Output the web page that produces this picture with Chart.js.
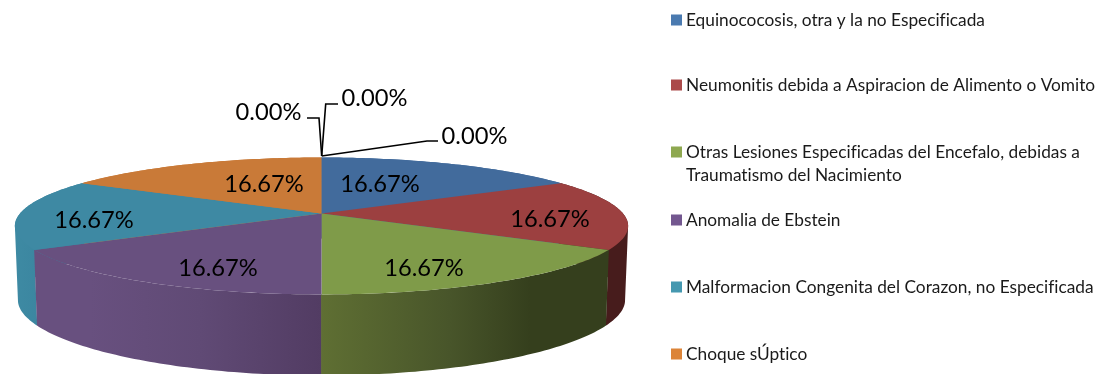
<!DOCTYPE html>
<html>
<head>
<meta charset="utf-8">
<title>Pie 3D</title>
<script src="https://cdn.jsdelivr.net/npm/chart.js@4"></script>
<style>
  html, body { margin: 0; padding: 0; background: #fff; overflow: hidden; }
  canvas { display: block; }
</style>
</head>
<body>
<canvas id="grafico" width="1105" height="374"></canvas>
<script>
// Datos (las tres primeras porciones valen 0 y no salen en la leyenda)
const categorias = [
  "Sin nombre 1", "Sin nombre 2", "Sin nombre 3",
  "Equinococosis, otra y la no Especificada",
  "Neumonitis debida a Aspiracion de Alimento o Vomito",
  "Otras Lesiones Especificadas del Encefalo, debidas a|Traumatismo del Nacimiento",
  "Anomalia de Ebstein",
  "Malformacion Congenita del Corazon, no Especificada",
  "Choque sÚptico"
];
const valores = [0, 0, 0, 16.67, 16.67, 16.67, 16.67, 16.67, 16.67];
const coloresTapa = ["#426b9c", "#426b9c", "#426b9c", "#426b9c", "#9c4040", "#7f9b49", "#68507f", "#3e89a3", "#c97a38"];
const coloresLeyenda = ["#4a7ab0", "#4a7ab0", "#4a7ab0", "#4a7ab0", "#ab4a4a", "#8ea850", "#73578f", "#4598b0", "#dc8438"];

// Proyeccion en perspectiva del disco
const vista = { cx: 321.5, cy: 213.5, rx: 301.5, ry: 66.2, k: 0.182 };
const FUENTE = "Lato, Carlito, sans-serif";

// theta: angulo de Chart.js, abajo: true para el borde inferior
function proyectar(theta, abajo) {
  const u = Math.cos(theta), v = Math.sin(theta);
  const w = 1 - vista.k * v;
  let x = vista.cx + vista.rx * u / w;
  let y = vista.cy + vista.ry * v / w;
  if (abajo) {
    x = vista.cx + (x - vista.cx) * 0.99;
    y += 74 + 7 * v * v;
  }
  return [x, y];
}

function trazarBorde(ctx, ini, fin) {
  const pasos = 60;
  for (let i = 0; i <= pasos; i++) {
    const p = proyectar(ini + (fin - ini) * i / pasos, false);
    ctx.lineTo(p[0], p[1]);
  }
}

// Pared lateral por tiras, todas en el mismo sentido y en un solo path para que no queden rayas
function pintarPared(ctx, ini, fin) {
  const pasos = 60;
  ctx.beginPath();
  for (let i = 0; i < pasos; i++) {
    const t0 = ini + (fin - ini) * i / pasos;
    const t1 = ini + (fin - ini) * (i + 1) / pasos;
    let q = [proyectar(t0, false), proyectar(t1, false), proyectar(t1, true), proyectar(t0, true)];
    const area = q.reduce((s, p, j) => {
      const n = q[(j + 1) % 4];
      return s + p[0] * n[1] - n[0] * p[1];
    }, 0);
    if (area < 0) q = q.reverse();
    ctx.moveTo(q[0][0], q[0][1]);
    ctx.lineTo(q[1][0], q[1][1]);
    ctx.lineTo(q[2][0], q[2][1]);
    ctx.lineTo(q[3][0], q[3][1]);
    ctx.closePath();
  }
  ctx.fill();
}

// Color de la pared lateral, con su degradado horizontal
function rellenoPared(ctx, indice) {
  const g = ctx.createLinearGradient(0, 0, 1105, 0);
  const tramos = {
    4: [[600, "#471c1c"], [630, "#471c1c"]],
    5: [[321, "#5f6f33"], [450, "#48552a"], [530, "#353f1d"], [610, "#353f1d"]],
    6: [[36, "#68507f"], [90, "#68507f"], [200, "#604a75"], [321, "#523c63"]],
    7: [[14, "#3e8aa3"], [40, "#3b86a0"]]
  }[indice];
  if (!tramos) return coloresTapa[indice];
  tramos.forEach(t => g.addColorStop(t[0] / 1105, t[1]));
  return g;
}

const tarta3d = {
  id: "tarta3d",
  // La tarta se pinta aqui a partir de los angulos que calcula Chart.js
  beforeDatasetDraw(chart) {
    const ctx = chart.ctx;
    const arcos = chart.getDatasetMeta(0).data;
    ctx.save();
    [8, 3, 7, 4, 6, 5].forEach(i => {
      ctx.fillStyle = rellenoPared(ctx, i);
      pintarPared(ctx, arcos[i].startAngle - 0.001, arcos[i].endAngle + 0.001);
    });
    arcos.forEach((a, i) => {
      if (valores[i] === 0) return;
      ctx.beginPath();
      ctx.moveTo(vista.cx, vista.cy);
      trazarBorde(ctx, a.startAngle, a.endAngle);
      ctx.closePath();
      ctx.fillStyle = coloresTapa[i];
      ctx.fill();
    });
    ctx.restore();
    return false;
  },
  afterDatasetsDraw(chart) {
    const ctx = chart.ctx;
    ctx.save();
    ctx.textRendering = "optimizeSpeed"; // sin ligaduras
    // Lineas guia de las etiquetas en 0
    ctx.strokeStyle = "#000";
    ctx.lineWidth = 1.6;
    [
      [[321.7, 156], [427, 141], [438, 141]],
      [[321.7, 156], [325.7, 104], [338, 104]],
      [[321.7, 156], [319, 118], [307, 118]]
    ].forEach(linea => {
      ctx.beginPath();
      linea.forEach(p => ctx.lineTo(p[0], p[1]));
      ctx.stroke();
    });
    // Etiquetas de porcentaje
    const posiciones = [[474.5, 136], [374.5, 98], [268.5, 112], [380, 184], [550, 219], [424, 268], [218, 268], [94, 220], [264, 184]];
    ctx.font = "23.7px " + FUENTE;
    ctx.fillStyle = "#000";
    ctx.textAlign = "center";
    ctx.textBaseline = "middle";
    valores.forEach((v, i) => {
      ctx.fillText(v.toFixed(2) + "%", posiciones[i][0], posiciones[i][1]);
    });
    // Leyenda
    const filas = [20, 85, 152, 220, 287, 354];
    ctx.font = "17.3px " + FUENTE;
    ctx.textAlign = "left";
    categorias.slice(3).forEach((nombre, i) => {
      const y = filas[i];
      ctx.fillStyle = coloresLeyenda[i + 3];
      ctx.fillRect(671, y - 5.5, 11, 11);
      ctx.fillStyle = "#1a1a1a";
      nombre.split("|").forEach((linea, j) => {
        ctx.fillText(linea, 686, y + j * 23);
      });
    });
    ctx.restore();
  }
};

new Chart(document.getElementById("grafico"), {
  type: "pie",
  data: {
    labels: categorias,
    datasets: [{ data: valores, backgroundColor: coloresTapa, borderWidth: 0 }]
  },
  options: {
    responsive: false,
    animation: false,
    plugins: { legend: { display: false }, tooltip: { enabled: false } }
  },
  plugins: [tarta3d]
});
</script>
</body>
</html>
